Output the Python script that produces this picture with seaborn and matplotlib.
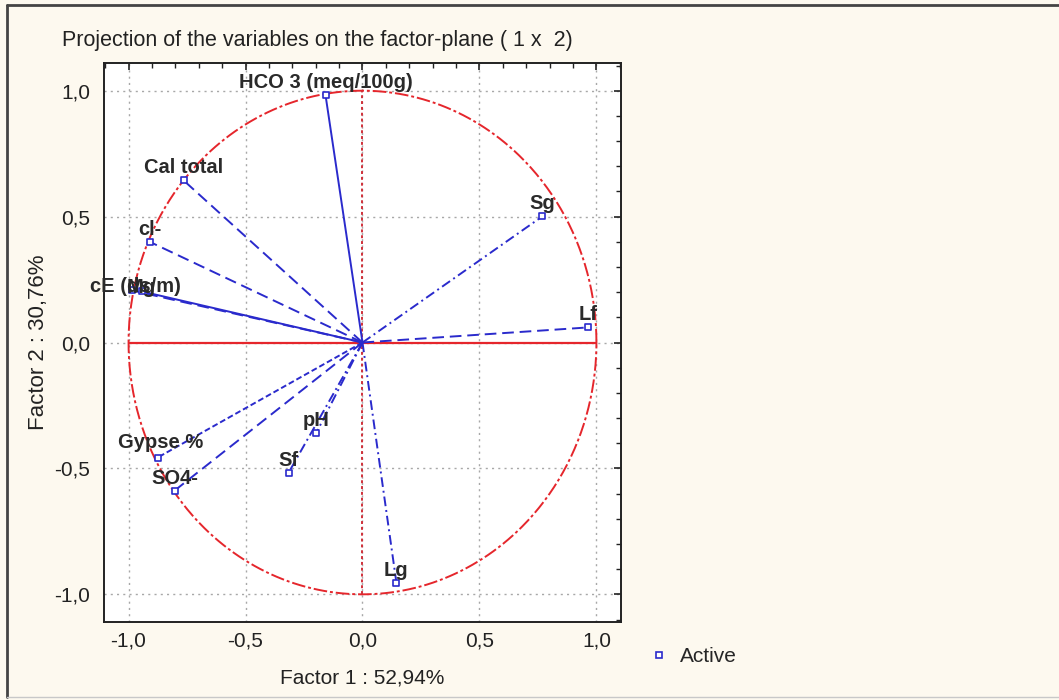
import numpy as np
import pandas as pd
import matplotlib
matplotlib.use("Agg")
import matplotlib.pyplot as plt
from matplotlib.lines import Line2D
from matplotlib.ticker import MultipleLocator, FuncFormatter
import seaborn as sns

# Variable loadings on factors 1 and 2
variables = ["HCO 3 (meq/100g)", "Cal total", "cl-", "cE (ds/m)", "Mg",
             "Gypse %", "SO4-", "pH", "Sf", "Lg", "Sg", "Lf"]
factor1 = [-0.158, -0.765, -0.910, -0.987, -0.944,
           -0.876, -0.803, -0.197, -0.316, 0.145, 0.769, 0.966]
factor2 = [0.982, 0.644, 0.400, 0.207, 0.203,
           -0.457, -0.588, -0.358, -0.517, -0.954, 0.501, 0.060]

title = "Projection of the variables on the factor-plane ( 1 x  2)"
xlabel = "Factor 1 : 52,94%"
ylabel = "Factor 2 : 30,76%"
legend_label = "Active"

df = pd.DataFrame({"variable": variables, "f1": factor1, "f2": factor2})

# line style of each vector
dash = (0, (6, 3))
dashdot = (0, (5, 2, 1, 2))
fine = (0, (3, 1.5))
line_styles = {
    "HCO 3 (meq/100g)": "-", "Cal total": dash, "cl-": dash,
    "cE (ds/m)": dash, "Mg": "-", "Gypse %": fine, "SO4-": dash,
    "pH": dashdot, "Sf": dashdot, "Lg": dashdot, "Sg": dashdot, "Lf": dash,
}
# label nudges in points (dx, dy)
label_offsets = {"cE (ds/m)": (3, -1), "Mg": (0, -1), "Gypse %": (2, 7)}

sns.set_theme(style="white")
plt.rcParams["font.family"] = ["Liberation Sans", "DejaVu Sans"]
plt.rcParams["axes.unicode_minus"] = False

BG = "#FDF9EF"
BLUE = "#2A2ACC"
RED = "#E5262C"
INK = "#222222"

fig = plt.figure(figsize=(10.59, 7.0), dpi=100, facecolor=BG)
ax = fig.add_axes([0.0982, 0.1114, 0.4882, 0.7986])
ax.set_facecolor("white")

# unit circle and zero axes
t = np.linspace(0, 2 * np.pi, 721)
ax.plot(np.cos(t), np.sin(t), color=RED, lw=1.4, linestyle=(0, (7, 1.5, 1.5, 1.5)), zorder=2)
ax.plot([-1, 1], [0, 0], color=RED, lw=1.6, zorder=2)
ax.plot([0, 0], [-1, 1], color="#D0303A", lw=1.4, linestyle=(0, (1.5, 1.5)), zorder=2)

# vectors from the origin
for _, r in df.iterrows():
    sns.lineplot(x=[0, r.f1], y=[0, r.f2], sort=False, ax=ax, color=BLUE,
                 lw=1.4, linestyle=line_styles[r.variable], zorder=3)

sns.scatterplot(data=df, x="f1", y="f2", ax=ax, marker="s", s=22,
                facecolor="white", edgecolor=BLUE, linewidth=1.2, zorder=4)

for _, r in df.iterrows():
    dx, dy = label_offsets.get(r.variable, (0, 5))
    ax.annotate(r.variable, (r.f1, r.f2), xytext=(dx, dy), textcoords="offset points",
                ha="center", va="baseline", fontsize=14.5, fontweight="bold",
                color="#2A2A2A", zorder=5)

ax.set_xlim(-1.105, 1.105)
ax.set_ylim(-1.11, 1.11)
ax.xaxis.set_major_locator(MultipleLocator(0.5))
ax.yaxis.set_major_locator(MultipleLocator(0.5))
ax.xaxis.set_minor_locator(MultipleLocator(0.1))
ax.yaxis.set_minor_locator(MultipleLocator(0.1))
fmt = FuncFormatter(lambda v, p: f"{v:.1f}".replace(".", ",").replace("-0,0", "0,0"))
ax.xaxis.set_major_formatter(fmt)
ax.yaxis.set_major_formatter(fmt)
ax.tick_params(which="both", direction="in", top=True, right=True,
               labelsize=15, colors=INK)
ax.tick_params(axis="y", pad=10)
ax.tick_params(axis="x", pad=7)
ax.tick_params(which="major", length=5, width=1.2)
ax.tick_params(which="minor", length=3.5, width=1.0)
ax.grid(True, which="major", color="#A8A8A8", linestyle=(0, (1.5, 3)), lw=1.0)
for s in ax.spines.values():
    s.set_color(INK)
    s.set_linewidth(1.4)

ax.set_xlabel(xlabel, fontsize=15, color=INK, labelpad=13)
ax.set_ylabel(ylabel, fontsize=16, color=INK, labelpad=4)
fig.text(62 / 1059, 1 - 46 / 700, title, fontsize=15.5, color=INK,
         ha="left", va="baseline")

handle = Line2D([], [], marker="s", linestyle="none", markersize=4,
                markerfacecolor="white", markeredgecolor=BLUE, markeredgewidth=1.2)
fig.legend([handle], [legend_label], loc="center left", frameon=False,
           bbox_to_anchor=(630 / 1059, 1 - 657 / 700), fontsize=15,
           handletextpad=0.5, handlelength=1.0)

# outer frame
fig.add_artist(Line2D([7 / 1059, 7 / 1059], [3 / 700, 1 - 5 / 700], transform=fig.transFigure,
                      color="#444444", lw=2))
fig.add_artist(Line2D([7 / 1059, 1.0], [1 - 5 / 700, 1 - 5 / 700], transform=fig.transFigure,
                      color="#444444", lw=2))
fig.add_artist(Line2D([7 / 1059, 1.0], [3 / 700, 3 / 700], transform=fig.transFigure,
                      color="#C8C8C8", lw=1))

fig.savefig("out.png", dpi=100, facecolor=BG)
